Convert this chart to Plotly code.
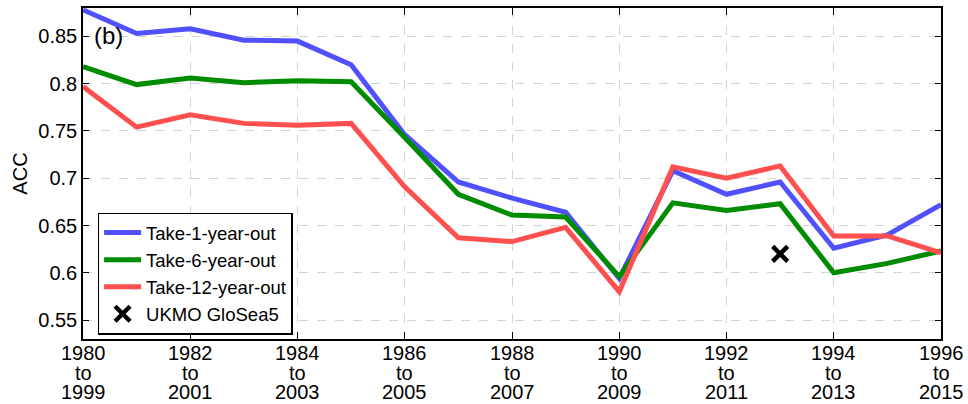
import plotly.graph_objects as go

years = list(range(1980, 1997))
end_years = [y + 19 for y in years]

take1 = [0.878, 0.853, 0.858, 0.846, 0.845, 0.820, 0.746, 0.696, 0.679, 0.664,
         0.594, 0.708, 0.683, 0.696, 0.626, 0.640, 0.672]
take6 = [0.818, 0.799, 0.806, 0.801, 0.803, 0.802, 0.743, 0.683, 0.661, 0.659,
         0.596, 0.674, 0.666, 0.673, 0.600, 0.610, 0.623]
take12 = [0.797, 0.754, 0.767, 0.758, 0.756, 0.758, 0.691, 0.637, 0.633, 0.648,
          0.580, 0.712, 0.700, 0.713, 0.639, 0.639, 0.621]

ukmo_x = [1993]
ukmo_y = [0.620]

tick_years = list(range(1980, 1997, 2))
yticks = [0.55, 0.6, 0.65, 0.7, 0.75, 0.8, 0.85]
ytick_text = ["0.55", "0.6", "0.65", "0.7", "0.75", "0.8", "0.85"]

FONT = "Liberation Sans, Arial, sans-serif"

fig = go.Figure()
fig.add_trace(go.Scatter(x=years, y=take1, mode="lines", name="Take-1-year-out",
                         line=dict(color="#5050ff", width=5)))
fig.add_trace(go.Scatter(x=years, y=take6, mode="lines", name="Take-6-year-out",
                         line=dict(color="#008c00", width=5)))
fig.add_trace(go.Scatter(x=years, y=take12, mode="lines", name="Take-12-year-out",
                         line=dict(color="#ff5050", width=5)))
fig.add_trace(go.Scatter(x=ukmo_x, y=ukmo_y, mode="markers", name="UKMO GloSea5",
                         marker=dict(symbol="x-thin", size=15,
                                     line=dict(color="black", width=4.5),
                                     color="black")))

annotations = []
for y in tick_years:
    e = y + 19
    for txt, shift in ((str(y), -14), ("to", -34), (str(e), -53)):
        annotations.append(dict(x=y, y=0, xref="x", yref="paper", text=txt,
                                showarrow=False, xanchor="center", yanchor="middle",
                                yshift=shift, height=18,
                                font=dict(size=20, color="black", family=FONT)))
annotations.append(dict(x=0.011, y=0.916, xref="paper", yref="paper", text="(b)",
                        showarrow=False, xanchor="left", yanchor="middle",
                        font=dict(size=24, color="black", family=FONT)))

fig.update_layout(
    width=968, height=404,
    margin=dict(l=83, r=27, t=6, b=65),
    paper_bgcolor="white", plot_bgcolor="white",
    font=dict(family=FONT, size=20, color="black"),
    showlegend=True,
    legend=dict(x=0.017, y=0.382, xanchor="left", yanchor="top",
                bgcolor="white", bordercolor="black", borderwidth=1.5,
                font=dict(size=18.5, family=FONT), itemwidth=37, tracegroupgap=0),
    annotations=annotations,
)
fig.update_xaxes(range=[1980, 1996], tickvals=tick_years, showticklabels=False,
                 ticks="inside", ticklen=7, tickcolor="black", tickwidth=1,
                 showline=True, linecolor="black", linewidth=1.5, mirror="ticks",
                 showgrid=True, gridcolor="#d3d3d3", griddash="dash", gridwidth=1,
                 zeroline=False)
fig.update_yaxes(range=[0.53, 0.88], tickvals=yticks, ticktext=ytick_text,
                 ticks="inside", ticklen=6, tickcolor="black", tickwidth=1,
                 showline=True, linecolor="black", linewidth=1.5, mirror="ticks",
                 showgrid=True, gridcolor="#d3d3d3", griddash="dash", gridwidth=1,
                 zeroline=False, tickfont=dict(size=20),
                 title=dict(text="ACC", font=dict(size=20), standoff=5))

fig.write_html("out.html")
